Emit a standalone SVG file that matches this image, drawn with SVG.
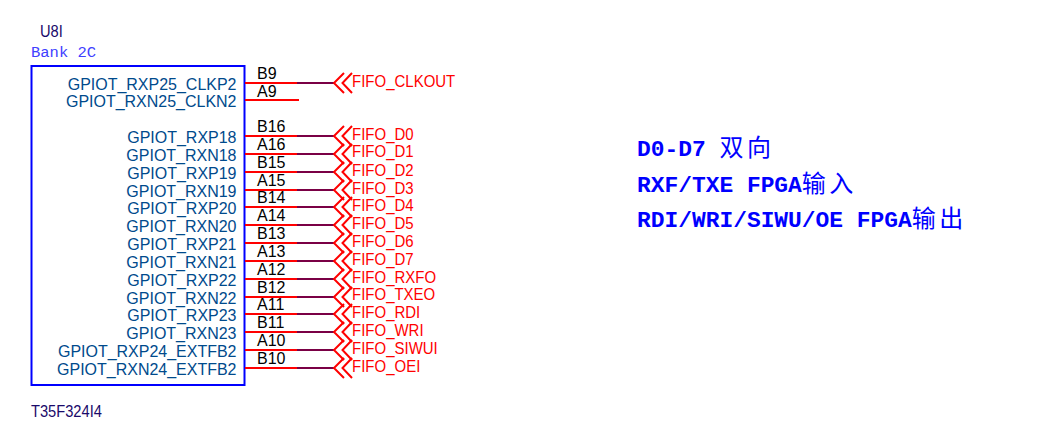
<svg xmlns="http://www.w3.org/2000/svg" width="1047" height="438" viewBox="0 0 1047 438">
<style>
text{font-family:"Liberation Sans",Arial,sans-serif;font-size:16px}
.pl{fill:#004a8c;text-anchor:end;font-size:16.800px;transform-box:fill-box;transform-origin:100% 50%;transform:scaleX(.952)}
.pn{fill:#000}
.nl{fill:#ff0000;font-size:16.300px;transform-box:fill-box;transform-origin:0% 50%;transform:scaleX(.92)}
.rf{fill:#1a0a6a;font-size:16.300px;transform-box:fill-box;transform-origin:0% 50%;transform:scaleX(.9)}
.rd{stroke:#ff0000;stroke-width:2;fill:none}
.wr{stroke:#7a0045;stroke-width:2;fill:none}
.ch{stroke:#ff0000;stroke-width:2;fill:none}
.nt{fill:#0000ff;font-family:"Liberation Mono","Noto Sans CJK SC",monospace;font-size:22.900px;font-weight:700}
.cj{font-weight:400;font-size:24px;letter-spacing:3.500px}
</style>
<defs>
<g id="chev"><path class="ch" d="M344 -10L334 0L344 10M352 -10L342.500 0L352 10"/></g>
</defs>
<rect width="1047" height="438" fill="#ffffff"/>
<g id="U8I">
<rect x="31.500" y="66" width="213" height="319" fill="none" stroke="#0000ff" stroke-width="2"/>
<text class="rf" x="40" y="37">U8I</text>
<text x="31" y="57" fill="#4040ff" style="font-family:'Liberation Mono',monospace;font-size:15.500px">Bank 2C</text>
<text class="rf" x="31" y="417">T35F324I4</text>
<text class="pl" x="236.500" y="90.500">GPIOT_RXP25_CLKP2</text>
<text class="pl" x="236.500" y="107.500">GPIOT_RXN25_CLKN2</text>
<text class="pl" x="236.500" y="143.500">GPIOT_RXP18</text>
<text class="pl" x="236.500" y="161.500">GPIOT_RXN18</text>
<text class="pl" x="236.500" y="179.500">GPIOT_RXP19</text>
<text class="pl" x="236.500" y="197.500">GPIOT_RXN19</text>
<text class="pl" x="236.500" y="214.500">GPIOT_RXP20</text>
<text class="pl" x="236.500" y="232.500">GPIOT_RXN20</text>
<text class="pl" x="236.500" y="250.500">GPIOT_RXP21</text>
<text class="pl" x="236.500" y="268.500">GPIOT_RXN21</text>
<text class="pl" x="236.500" y="286.500">GPIOT_RXP22</text>
<text class="pl" x="236.500" y="304.500">GPIOT_RXN22</text>
<text class="pl" x="236.500" y="321.500">GPIOT_RXP23</text>
<text class="pl" x="236.500" y="339.500">GPIOT_RXN23</text>
<text class="pl" x="236.500" y="357.500">GPIOT_RXP24_EXTFB2</text>
<text class="pl" x="236.500" y="375.500">GPIOT_RXN24_EXTFB2</text>
<g class="pn">
<text x="257" y="79">B9</text>
<text x="257" y="96.500">A9</text>
<text x="257" y="132">B16</text>
<text x="257" y="150">A16</text>
<text x="257" y="168">B15</text>
<text x="257" y="186">A15</text>
<text x="257" y="203">B14</text>
<text x="257" y="221">A14</text>
<text x="257" y="239">B13</text>
<text x="257" y="257">A13</text>
<text x="257" y="275">A12</text>
<text x="257" y="293">B12</text>
<text x="257" y="310">A11</text>
<text x="257" y="328">B11</text>
<text x="257" y="346">A10</text>
<text x="257" y="364">B10</text>
</g>
</g>
<g id="connectors">
<path class="rd" d="M245 83H297M245 100H299M245 136H297M245 154H297M245 172H297M245 190H297M245 207H297M245 225H297M245 243H297M245 261H297M245 279H297M245 297H297M245 314H297M245 332H297M245 350H297M245 368H297"/>
<path class="wr" d="M297 83H335M297 136H335M297 154H335M297 172H335M297 190H335M297 207H335M297 225H335M297 243H335M297 261H335M297 279H335M297 297H335M297 314H335M297 332H335M297 350H335M297 368H335"/>
</g>
<g id="net-FIFO_CLKOUT"><use href="#chev" y="83"/><text class="nl" x="352" y="87">FIFO_CLKOUT</text></g>
<g id="net-FIFO_D0"><use href="#chev" y="136"/><text class="nl" x="352" y="140.500">FIFO_D0</text></g>
<g id="net-FIFO_D1"><use href="#chev" y="154"/><text class="nl" x="352" y="157.500">FIFO_D1</text></g>
<g id="net-FIFO_D2"><use href="#chev" y="172"/><text class="nl" x="352" y="176">FIFO_D2</text></g>
<g id="net-FIFO_D3"><use href="#chev" y="190"/><text class="nl" x="352" y="194">FIFO_D3</text></g>
<g id="net-FIFO_D4"><use href="#chev" y="207"/><text class="nl" x="352" y="211">FIFO_D4</text></g>
<g id="net-FIFO_D5"><use href="#chev" y="225"/><text class="nl" x="352" y="229">FIFO_D5</text></g>
<g id="net-FIFO_D6"><use href="#chev" y="243"/><text class="nl" x="352" y="247">FIFO_D6</text></g>
<g id="net-FIFO_D7"><use href="#chev" y="261"/><text class="nl" x="352" y="265">FIFO_D7</text></g>
<g id="net-FIFO_RXFO"><use href="#chev" y="279"/><text class="nl" x="352" y="283">FIFO_RXFO</text></g>
<g id="net-FIFO_TXEO"><use href="#chev" y="297"/><text class="nl" x="352" y="300.500">FIFO_TXEO</text></g>
<g id="net-FIFO_RDI"><use href="#chev" y="314"/><text class="nl" x="352" y="318.500">FIFO_RDI</text></g>
<g id="net-FIFO_WRI"><use href="#chev" y="332"/><text class="nl" x="352" y="336">FIFO_WRI</text></g>
<g id="net-FIFO_SIWUI"><use href="#chev" y="350"/><text class="nl" x="352" y="354">FIFO_SIWUI</text></g>
<g id="net-FIFO_OEI"><use href="#chev" y="368"/><text class="nl" x="352" y="372">FIFO_OEI</text></g>
<g id="note">
<text class="nt" x="637" y="156">D0-D7 <tspan class="cj">双向</tspan></text>
<text class="nt" x="637" y="192">RXF/TXE FPGA<tspan class="cj">输入</tspan></text>
<text class="nt" x="637" y="227">RDI/WRI/SIWU/OE FPGA<tspan class="cj">输出</tspan></text>
</g>
</svg>
